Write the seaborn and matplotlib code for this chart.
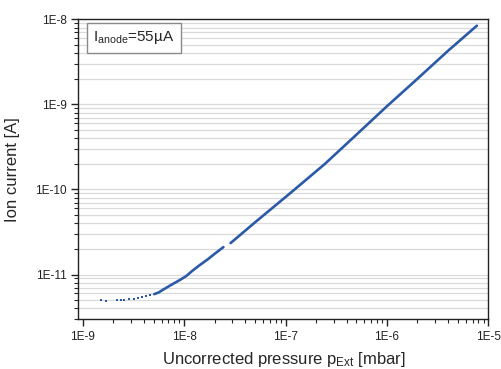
import numpy as np
import pandas as pd
import matplotlib
matplotlib.use("Agg")
from matplotlib import pyplot as plt
from matplotlib import ticker
import seaborn as sns

# low-pressure tail, drawn as separate dots
p_dots = [1.52e-9, 1.68e-9, 2.16e-9, 2.37e-9, 2.56e-9, 2.86e-9, 3.17e-9, 3.50e-9,
          3.83e-9, 4.22e-9, 4.63e-9]
i_dots = [4.99e-12, 4.9e-12, 5.0e-12, 5.0e-12, 5.03e-12, 5.09e-12, 5.18e-12, 5.27e-12,
          5.38e-12, 5.53e-12, 5.67e-12]

# first continuous segment (up to the small gap)
p_seg1 = [5.07e-9, 5.61e-9, 6.1e-9, 7.38e-9, 9.2e-9, 1.05e-8, 1.2e-8, 1.4e-8, 1.7e-8,
          2.0e-8, 2.44e-8]
i_seg1 = [5.88e-12, 6.15e-12, 6.55e-12, 7.5e-12, 8.7e-12, 9.6e-12, 1.1e-11, 1.27e-11,
          1.5e-11, 1.75e-11, 2.1e-11]

# second continuous segment
p_seg2 = [2.87e-8, 5e-8, 1.12e-7, 2.45e-7, 5e-7, 1e-6, 2e-6, 4.04e-6, 7.7e-6]
i_seg2 = [2.34e-11, 4.1e-11, 9.1e-11, 2.0e-10, 4.4e-10, 9.5e-10, 2.0e-9, 4.3e-9, 8.4e-9]

x_ticks = [1e-9, 1e-8, 1e-7, 1e-6, 1e-5]
y_ticks = [1e-11, 1e-10, 1e-9, 1e-8]

sns.set_style("ticks")
plt.rcParams['font.family'] = ['Liberation Sans', 'DejaVu Sans']
plt.rcParams['mathtext.default'] = 'regular'

blue = '#2b5aa8'

fig = plt.figure(figsize=(5.01, 3.69), dpi=100)
ax = fig.add_axes([0.1563, 0.1355, 0.8184, 0.8122])
ax.set_xscale('log')
ax.set_yscale('log')

seg1 = pd.DataFrame({'p': p_seg1, 'i': i_seg1})
seg2 = pd.DataFrame({'p': p_seg2, 'i': i_seg2})
dots = pd.DataFrame({'p': p_dots, 'i': i_dots})
sns.lineplot(data=seg1, x='p', y='i', color=blue, lw=1.9, ax=ax, zorder=3)
sns.lineplot(data=seg2, x='p', y='i', color=blue, lw=1.9, ax=ax, zorder=3)
sns.scatterplot(data=dots, x='p', y='i', color=blue, s=3.5, marker='s',
                linewidth=0, ax=ax, zorder=3)

ax.set_xlim(9.05e-10, 1e-5)
ax.set_ylim(3e-12, 1e-8)

fmt = ticker.FuncFormatter(lambda v, _: "1E%d" % int(round(np.log10(v))))
ax.xaxis.set_major_locator(ticker.FixedLocator(x_ticks))
ax.yaxis.set_major_locator(ticker.FixedLocator(y_ticks))
ax.xaxis.set_major_formatter(fmt)
ax.yaxis.set_major_formatter(fmt)
ax.xaxis.set_minor_locator(ticker.LogLocator(base=10, subs=np.arange(2, 10), numticks=20))
ax.yaxis.set_minor_locator(ticker.LogLocator(base=10, subs=np.arange(2, 10), numticks=20))
ax.xaxis.set_minor_formatter(ticker.NullFormatter())
ax.yaxis.set_minor_formatter(ticker.NullFormatter())

ax.tick_params(which='major', direction='out', length=5, width=1, labelsize=8.5,
               colors='#222222', top=False, right=False)
ax.tick_params(which='minor', direction='out', length=3, width=0.8, top=False, right=False)

ax.yaxis.grid(True, which='both', color='#dadada', lw=0.9)
ax.xaxis.grid(False)
ax.set_axisbelow(True)

for s in ax.spines.values():
    s.set_linewidth(1.0)
    s.set_color('#222222')

ax.set_xlabel(r"Uncorrected pressure p$_{Ext}$ [mbar]", fontsize=12, labelpad=5)
ax.set_ylabel("Ion current [A]", fontsize=12, labelpad=11)

ax.text(0.136, 0.938, r"I$_{anode}$=55µA", transform=ax.transAxes, fontsize=11,
        ha='center', va='center',
        bbox=dict(boxstyle='square,pad=0.42', fc='white', ec='#8a8a8a', lw=1.0))

fig.savefig('out.png', dpi=100)
